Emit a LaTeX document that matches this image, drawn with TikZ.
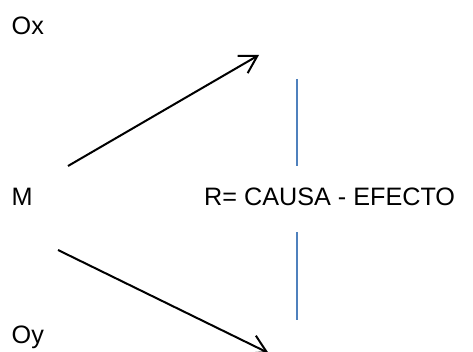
\documentclass[tikz,border=0pt]{standalone}
\usepackage{fontspec}
\setmainfont{Liberation Sans}
\usetikzlibrary{arrows.meta}
\definecolor{linkblue}{RGB}{79,129,189}
\begin{document}
\begin{tikzpicture}[x=1pt,y=1pt,
  lbl/.style={anchor=base west,inner sep=0pt,font=\fontsize{25.2}{30}\selectfont},
  arr/.style={line width=2pt,-{Straight Barb[length=17pt,width=20pt,line width=2pt]}},
  bar/.style={line width=1.8pt,draw=linkblue}]
\useasboundingbox (0,0) rectangle (473,351);
\node[lbl] (ox) at (11.5,316.5) {Ox};
\node[lbl] (m) at (11.5,146) {M};
\node[lbl] (oy) at (11.5,8) {Oy};
\node[lbl] (r) at (204,146) {R= CAUSA - EFECTO};
\coordinate (a1s) at (68,185);
\coordinate (a1e) at (259,296);
\coordinate (a2s) at (58,101);
\coordinate (a2e) at (268.5,-2);
\coordinate (b1t) at (297,272);
\coordinate (b1b) at (297,185);
\coordinate (b2t) at (297,119);
\coordinate (b2b) at (297,31);
\draw[arr] (a1s) -- (a1e);
\draw[arr] (a2s) -- (a2e);
\draw[bar] (b1t) -- (b1b);
\draw[bar] (b2t) -- (b2b);
\end{tikzpicture}
\end{document}
